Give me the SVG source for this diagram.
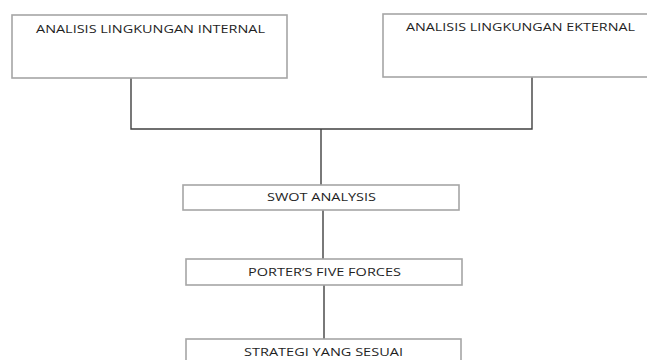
<svg xmlns="http://www.w3.org/2000/svg" width="647" height="360" viewBox="0 0 647 360">
  <style>
    .box { fill: #ffffff; stroke: #a6a6a6; stroke-width: 1.6; }
    .lbl { font-family: "Open Sans", "Liberation Sans", sans-serif; font-size: 11px; fill: #1f1f1f; text-anchor: middle; }
    .wire { fill: none; stroke: #404040; stroke-width: 1.4; }
  </style>
  <rect width="647" height="360" fill="#ffffff"/>

  <g id="connectors">
    <polyline class="wire" points="131,78 131,129 532,129 532,77"/>
    <line class="wire" x1="321" y1="129" x2="321" y2="185"/>
    <line class="wire" x1="323" y1="210" x2="323" y2="259"/>
    <line class="wire" x1="324" y1="285" x2="324" y2="339"/>
  </g>

  <g id="internal">
    <rect class="box" x="12" y="15" width="275" height="63"/>
    <text class="lbl" x="150.5" y="32.5" textLength="229" lengthAdjust="spacingAndGlyphs">ANALISIS LINGKUNGAN INTERNAL</text>
  </g>

  <g id="eksternal">
    <rect class="box" x="383" y="14" width="270" height="63"/>
    <text class="lbl" x="520.5" y="30.5" textLength="229" lengthAdjust="spacingAndGlyphs">ANALISIS LINGKUNGAN EKTERNAL</text>
  </g>

  <g id="swot">
    <rect class="box" x="183" y="185" width="276" height="25"/>
    <text class="lbl" x="321.5" y="201" textLength="109" lengthAdjust="spacingAndGlyphs">SWOT ANALYSIS</text>
  </g>

  <g id="porter">
    <rect class="box" x="186" y="259" width="276" height="26"/>
    <text class="lbl" x="324.5" y="275.5" textLength="153" lengthAdjust="spacingAndGlyphs">PORTER’S FIVE FORCES</text>
  </g>

  <g id="strategi">
    <rect class="box" x="186" y="339" width="275" height="30"/>
    <text class="lbl" x="323.5" y="356" textLength="159" lengthAdjust="spacingAndGlyphs">STRATEGI YANG SESUAI</text>
  </g>
</svg>
